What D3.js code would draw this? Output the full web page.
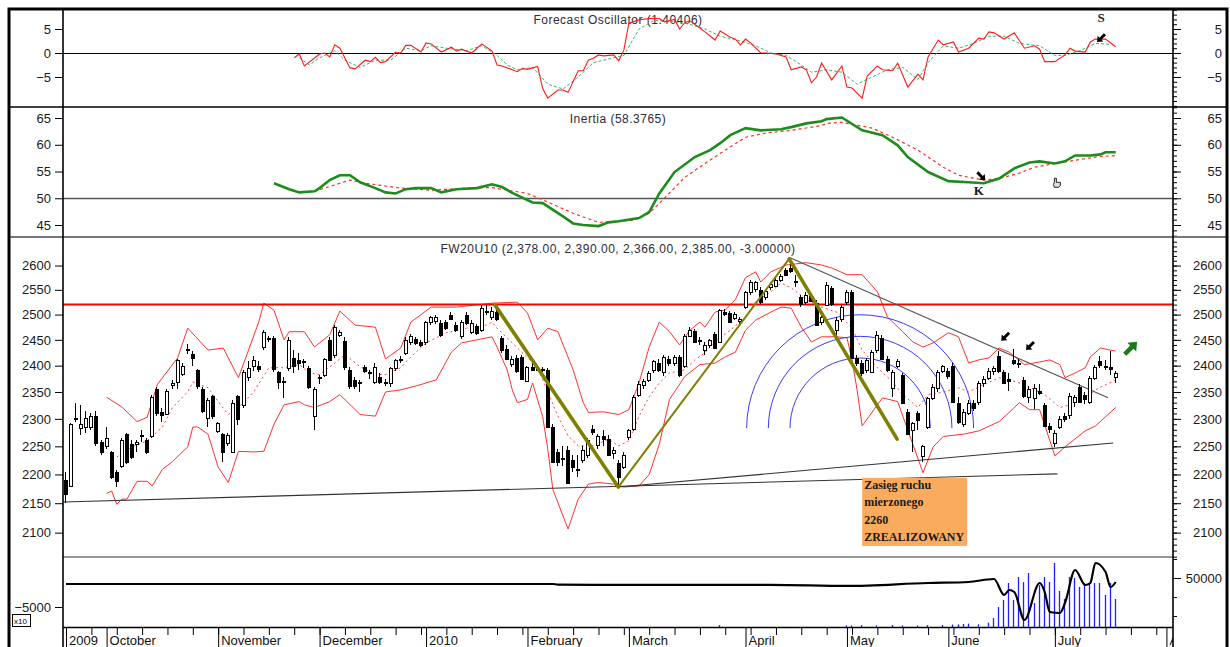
<!DOCTYPE html>
<html>
<head>
<meta charset="utf-8">
<script src="https://cdnjs.cloudflare.com/ajax/libs/d3/7.8.5/d3.min.js"></script>
<style>
  body { margin: 0; background: #fff; }
  svg { display: block; }
  .tick text { font-family: Arial, "Liberation Sans", sans-serif; font-size: 13px; fill: #1a1a1a; }
  .tick line { stroke: #000; }
  .domain { display: none; }
  .title { font-family: Arial, "Liberation Sans", sans-serif; font-size: 12px; fill: #2b2b38; letter-spacing: 0.5px; }
  .note { font-family: "Times New Roman", "Liberation Serif", serif; font-weight: bold; font-size: 12px; fill: #1a1a1a; }
</style>
</head>
<body>
<svg id="chart" width="1230" height="647"></svg>
<script>

// daily candles, FW20U10, index 0 = 21 Sep 2009 ... 207 = 16 Jul 2010  [open, high, low, close]
var ohlc = [
  [2190,2205,2150,2165],[2180,2292,2178,2290],[2300,2330,2295,2302],[2283,2325,2270,2290],[2285,2315,2275,2302],
  [2285,2310,2280,2305],[2305,2315,2250,2255],[2258,2262,2235,2240],[2250,2285,2245,2265],[2240,2242,2192,2195],
  [2205,2208,2178,2190],[2215,2265,2212,2262],[2272,2275,2218,2222],[2255,2262,2228,2232],[2255,2262,2240,2258],
  [2268,2280,2258,2270],[2262,2265,2236,2240],[2268,2345,2265,2340],[2355,2360,2305,2310],[2312,2320,2295,2307],
  [2310,2355,2308,2352],[2363,2372,2355,2366],[2368,2412,2355,2410],[2385,2405,2380,2400],[2430,2442,2422,2432],
  [2422,2428,2400,2414],[2392,2394,2355,2362],[2356,2360,2310,2315],[2302,2338,2285,2335],[2342,2345,2300,2305],
  [2278,2295,2275,2292],[2272,2275,2222,2240],[2255,2275,2250,2270],[2240,2335,2238,2330],[2342,2345,2288,2300],
  [2325,2392,2320,2388],[2378,2408,2370,2395],[2398,2418,2390,2410],[2400,2408,2388,2395],[2435,2470,2430,2465],
  [2453,2458,2445,2452],[2453,2458,2388,2392],[2387,2390,2355,2368],[2370,2378,2338,2370],[2395,2455,2390,2450],
  [2415,2430,2385,2400],[2410,2425,2392,2405],[2408,2412,2395,2408],[2395,2400,2355,2358],[2305,2360,2280,2355],
  [2376,2382,2365,2378],[2382,2415,2378,2412],[2450,2455,2410,2412],[2420,2480,2415,2475],[2460,2470,2455,2465],
  [2447,2455,2392,2396],[2392,2398,2355,2362],[2372,2378,2355,2360],[2366,2372,2350,2368],[2398,2402,2385,2390],
  [2388,2392,2375,2388],[2370,2405,2365,2398],[2378,2385,2365,2368],[2368,2375,2362,2366],[2367,2398,2360,2395],
  [2395,2412,2390,2410],[2412,2418,2405,2410],[2425,2455,2420,2450],[2447,2462,2440,2458],[2452,2456,2440,2445],
  [2445,2450,2436,2440],[2445,2488,2440,2485],[2485,2498,2480,2495],[2488,2500,2482,2496],[2484,2490,2455,2460],
  [2485,2490,2470,2473],[2500,2505,2490,2493],[2480,2485,2465,2470],[2457,2490,2452,2485],[2500,2505,2480,2484],
  [2466,2490,2462,2484],[2477,2482,2460,2463],[2470,2520,2465,2513],[2505,2520,2500,2507],[2495,2515,2490,2508],
  [2505,2510,2488,2492],[2453,2458,2425,2430],[2433,2440,2410,2413],[2403,2418,2398,2413],[2415,2420,2385,2390],
  [2417,2420,2372,2375],[2372,2400,2368,2398],[2398,2405,2390,2392],[2396,2402,2390,2392],[2394,2398,2388,2392],
  [2392,2395,2286,2286],[2285,2290,2222,2222],[2240,2245,2215,2222],[2230,2250,2215,2230],[2244,2250,2185,2185],
  [2225,2235,2205,2212],[2210,2235,2195,2210],[2226,2250,2220,2244],[2235,2265,2230,2262],[2282,2288,2270,2276],
  [2252,2272,2245,2268],[2268,2280,2250,2262],[2263,2270,2232,2235],[2238,2248,2228,2244],[2220,2225,2180,2195],
  [2213,2240,2210,2235],[2268,2282,2262,2280],[2280,2345,2278,2340],[2345,2370,2340,2365],[2362,2375,2355,2370],
  [2372,2390,2368,2385],[2390,2410,2385,2408],[2405,2412,2388,2392],[2388,2420,2380,2417],[2412,2418,2400,2405],
  [2405,2420,2400,2417],[2417,2420,2378,2382],[2400,2462,2395,2458],[2458,2475,2455,2470],[2468,2472,2445,2447],
  [2450,2455,2440,2450],[2430,2445,2420,2440],[2440,2452,2435,2450],[2462,2465,2432,2435],[2447,2512,2445,2510],
  [2505,2512,2498,2500],[2503,2508,2484,2485],[2495,2505,2490,2502],[2488,2495,2482,2492],[2515,2548,2512,2545],
  [2545,2570,2540,2566],[2550,2568,2545,2565],[2550,2555,2522,2525],[2535,2552,2530,2548],[2555,2565,2550,2562],
  [2558,2575,2555,2570],[2570,2582,2565,2578],[2590,2595,2578,2580],[2595,2605,2585,2588],[2568,2580,2555,2566],
  [2535,2540,2515,2520],[2525,2545,2520,2540],[2540,2545,2525,2528],[2524,2530,2478,2480],[2485,2500,2480,2495],
  [2520,2565,2518,2560],[2553,2558,2518,2520],[2470,2495,2460,2490],[2490,2520,2485,2515],[2525,2550,2520,2545],
  [2545,2550,2412,2415],[2415,2420,2400,2406],[2406,2410,2380,2387],[2390,2415,2385,2410],[2388,2430,2385,2427],
  [2430,2468,2425,2460],[2453,2460,2410,2412],[2412,2418,2388,2390],[2358,2392,2340,2388],[2398,2412,2395,2408],
  [2382,2385,2328,2330],[2313,2318,2270,2272],[2280,2295,2240,2292],[2310,2315,2280,2297],[2232,2252,2222,2250],
  [2285,2340,2282,2338],[2340,2365,2335,2360],[2358,2392,2350,2388],[2390,2402,2385,2400],[2390,2395,2375,2380],
  [2400,2405,2330,2332],[2330,2340,2290,2295],[2290,2318,2285,2313],[2312,2335,2308,2330],[2330,2335,2315,2320],
  [2332,2370,2325,2367],[2367,2380,2360,2375],[2377,2395,2372,2390],[2390,2400,2382,2395],[2418,2428,2385,2390],
  [2388,2392,2365,2368],[2375,2385,2352,2372],[2410,2432,2402,2405],[2405,2412,2395,2403],[2372,2378,2338,2342],
  [2340,2362,2330,2355],[2340,2365,2318,2358],[2352,2365,2345,2348],[2325,2330,2285,2287],[2287,2292,2275,2282],
  [2255,2280,2248,2274],[2285,2305,2282,2300],[2305,2310,2295,2300],[2307,2348,2300,2343],[2330,2345,2322,2340],
  [2360,2365,2330,2332],[2345,2350,2328,2338],[2332,2380,2328,2377],[2377,2402,2372,2398],[2408,2418,2395,2400],
  [2400,2410,2392,2400],[2398,2428,2382,2395],[2378,2390,2366,2385]
];

// bollinger bands  [day index, price]
var bbUpper = [[8,2340],[11,2322],[14,2295],[16,2303],[18,2364],[22,2415],[24,2473],[28,2430],[31,2434],[34,2377],
  [38,2485],[39,2523],[41,2509],[43,2450],[44,2466],[47,2466],[49,2436],[52,2460],[54,2507],[57,2479],[61,2475],
  [63,2413],[66,2434],[68,2485],[72,2515],[77,2515],[84,2523],[89,2525],[91,2503],[93,2450],[95,2473],[97,2466],
  [100,2392],[102,2330],[103,2312],[106,2313],[109,2308],[111,2317],[113,2367],[115,2436],[117,2485],[119,2466],
  [121,2440],[123,2469],[125,2485],[126,2475],[128,2505],[130,2509],[132,2530],[134,2575],[136,2587],[137,2566],
  [139,2587],[142,2601],[146,2606],[149,2601],[151,2595],[154,2581],[157,2581],[160,2546],[162,2495],[165,2466],
  [167,2446],[169,2436],[171,2444],[174,2464],[176,2456],[178,2405],[180,2411],[182,2415],[184,2434],[186,2426],
  [189,2402],[192,2407],[194,2411],[196,2402],[197,2377],[199,2386],[201,2396],[202,2417],[204,2434],[207,2428]];
var bbLower = [[8,2167],[9,2171],[10,2148],[11,2157],[12,2157],[14,2188],[16,2188],[17,2180],[19,2209],[21,2223],
  [24,2249],[25,2285],[26,2285],[28,2272],[30,2213],[32,2186],[34,2241],[37,2240],[39,2241],[41,2290],[43,2326],
  [46,2332],[47,2326],[49,2321],[52,2332],[54,2345],[58,2308],[61,2305],[63,2350],[66,2354],[70,2364],[73,2373],
  [76,2426],[78,2444],[81,2450],[84,2456],[85,2436],[87,2392],[88,2354],[89,2330],[91,2336],[92,2367],[94,2304],
  [95,2245],[96,2174],[99,2106],[101,2157],[103,2183],[105,2186],[108,2183],[110,2178],[113,2180],[115,2200],
  [117,2254],[119,2336],[122,2379],[125,2402],[128,2405],[130,2417],[132,2426],[134,2469],[136,2489],[139,2505],
  [141,2515],[143,2513],[145,2475],[147,2446],[149,2456],[152,2456],[154,2454],[155,2411],[156,2354],[157,2287],
  [161,2339],[164,2332],[169,2203],[171,2249],[173,2268],[177,2272],[180,2278],[184,2295],[186,2312],[188,2330],
  [190,2317],[192,2317],[195,2233],[197,2249],[201,2278],[203,2287],[207,2321]];
var bbMiddle = [[10,2231],[13,2249],[16,2260],[19,2285],[21,2321],[24,2350],[25,2369],[28,2358],[30,2332],[32,2308],
  [34,2321],[37,2350],[40,2396],[43,2396],[46,2402],[48,2386],[50,2383],[53,2405],[55,2421],[58,2398],[61,2383],
  [63,2383],[66,2396],[68,2417],[71,2444],[75,2464],[79,2473],[82,2475],[84,2485],[85,2473],[88,2444],[91,2415],
  [93,2398],[95,2350],[97,2305],[99,2269],[101,2251],[104,2251],[107,2263],[109,2251],[111,2260],[113,2305],
  [115,2341],[117,2367],[119,2386],[122,2392],[124,2411],[126,2425],[128,2446],[131,2469],[134,2495],[136,2526],
  [139,2546],[141,2564],[143,2554],[146,2530],[149,2515],[152,2505],[155,2473],[157,2430],[160,2396],[163,2369],
  [165,2345],[168,2321],[170,2345],[173,2350],[176,2358],[178,2350],[181,2364],[184,2377],[186,2373],[189,2364],
  [193,2345],[196,2321],[198,2326],[201,2339],[203,2354],[207,2373]];

// forecast oscillator and its signal
var foLine = [[45,-1.0],[46,-0.2],[47,-2.7],[50,-0.2],[51,0],[52,-0.8],[53,1.7],[54,1.0],[56,-3.1],[57,-3.3],[59,-1.5],
  [60,-1.8],[61,-0.9],[62,-2.0],[63,-1.8],[65,0.2],[66,0],[67,1.6],[68,1.6],[70,0.2],[71,2.1],[72,1.9],[74,0.2],
  [76,1.2],[77,0.4],[78,0.8],[80,0],[82,1.9],[84,0.4],[85,-2.5],[86,-2.7],[89,-3.9],[90,-3.2],[91,-3.4],[93,-2.8],
  [94,-7.4],[95,-9.4],[97,-7.7],[98,-7.7],[99,-8.2],[101,-3.7],[102,-3.7],[103,-1.5],[104,-1.1],[105,-0.4],
  [106,-0.6],[108,-0.4],[109,-1.6],[110,0.6],[111,6.2],[113,6.9],[115,7.2],[117,7.2],[118,6.5],[120,7.0],[121,5.0],
  [122,6.3],[123,6.7],[125,5.2],[126,4.4],[128,2.7],[129,4.6],[131,3.3],[132,2.9],[133,1.7],[134,2.9],[135,2.1],
  [137,0],[138,0],[140,-0.2],[142,-0.8],[143,-3.5],[145,-2.9],[146,-3.5],[147,-6.2],[148,-5.0],[149,-2.1],[151,-5.6],
  [153,-2.7],[154,-7.1],[155,-7.3],[157,-9.4],[158,-4.8],[160,-2.7],[161,-3.5],[163,-3.7],[164,-2.1],[166,-7.1],
  [168,-4.4],[169,-5.6],[170,-0.8],[172,2.7],[173,1.7],[175,2.3],[176,0.2],[178,1.0],[180,3.1],[181,2.9],[182,4.4],
  [183,4.2],[185,2.9],[187,4.2],[189,1.0],[191,1.5],[192,0.8],[193,-1.8],[195,-1.8],[197,-0.4],[198,1.0],[199,0.4],
  [201,0.2],[202,2.3],[203,2.9],[205,2.9],[207,1.3]];
var foSignal = [[46,-1],[48,-2.5],[50,-1],[53,0.5],[55,-1.5],[58,-3],[61,-1.5],[64,-1.5],[67,1],[70,0.5],[72,1.5],
  [75,1],[79,0.5],[82,1.5],[85,-0.5],[87,-2.5],[89,-3.5],[92,-3],[95,-6.5],[98,-7.5],[101,-5],[104,-2],[108,-1],
  [110,-0.5],[113,5],[116,6.8],[120,6.5],[123,6],[126,5],[129,3.5],[133,2.5],[136,1.5],[139,0],[142,-0.5],[145,-2.5],
  [147,-4],[150,-3.5],[153,-4],[156,-6.5],[159,-5],[162,-3.5],[165,-3],[168,-5.5],[170,-2],[173,1.5],[176,1],[179,2],
  [182,3.5],[185,3.5],[188,2],[192,1.5],[195,-0.5],[197,-0.5],[200,0.5],[203,2],[206,1.8]];

// inertia and its signal
var inertiaLine = [[41,52.8],[44,51.7],[46,51.1],[49,51.3],[50,51.9],[52,53.4],[54,54.3],[56,54.3],[58,53.0],[61,51.9],
  [63,51.1],[65,50.9],[67,51.7],[69,51.9],[72,51.9],[74,51.1],[77,51.7],[81,51.9],[84,52.6],[86,52.1],[88,51.0],
  [92,49.2],[94,49.1],[98,46.6],[100,45.3],[102,45.0],[105,44.8],[107,45.5],[109,45.7],[113,46.3],[115,47.4],
  [117,50.9],[120,54.9],[124,57.7],[127,59.0],[129,60.3],[131,61.8],[134,63.1],[137,62.7],[141,62.9],[143,63.3],
  [146,64.0],[149,64.4],[150,64.8],[153,65.1],[157,62.7],[161,61.8],[164,59.9],[166,57.7],[170,54.9],[174,53.2],
  [178,53.0],[181,52.8],[184,53.7],[187,55.6],[190,56.7],[192,56.9],[195,56.5],[197,56.9],[199,58.0],[202,58.0],
  [204,58.2],[205,58.6],[207,58.6]];
var inertiaSignal = [[49,51.3],[51,51.9],[56,53.4],[59,52.8],[66,51.9],[72,51.5],[79,51.9],[84,52.0],[91,50.9],
  [95,49.3],[100,47.2],[105,45.5],[112,45.9],[115,47.2],[118,50.0],[122,53.9],[126,56.5],[130,59.0],[134,61.4],
  [138,62.2],[143,62.7],[149,63.6],[150,64.0],[153,64.2],[159,63.1],[163,61.4],[168,59.0],[173,55.8],[176,54.3],
  [181,53.4],[184,53.7],[188,54.7],[191,55.8],[195,56.5],[199,57.1],[203,57.7],[207,58.0]];

// bottom panel: open interest line (left scale, x10) and volume bars (right scale)
var oiLine = [[0,-3000],[96,-3000],[97,-3050],[107,-3080],[139,-3080],[154,-3170],[170,-2913],[178,-2826],[183,-2565],
  [185,-3957],[186,-3522],[187,-3696],[189,-6130],[192,-2913],[193,-3696],[194,-5435],[196,-5522],[197,-4652],
  [199,-1783],[201,-3087],[202,-2913],[203,-1174],[205,-1957],[206,-3261],[207,-2826]];
var volumeBars = [[129,25200],[154,25000],[155,25000],[157,25200],[160,25000],[163,25300],[165,25000],[168,25000],
  [170,25200],[173,25300],[175,25500],[176,25600],[177,25800],[178,26000],[180,25600],[182,26500],
  [183,28950],[184,34740],[185,38420],[186,47370],[187,38420],[188,50530],[189,47900],[190,52630],[191,36840],
  [192,46300],[193,50530],[194,47900],[195,57900],[196,43160],[197,38950],[198,50530],[199,50000],[200,45260],
  [201,47370],[202,47370],[203,47370],[204,47370],[205,41050],[206,47370],[207,38950]];

// hand drawn analysis
var resistanceLevel = 2520;
var supportLine1 = [[-0.6,2152],[195.5,2201]];
var supportLine2 = [[108.9,2178],[206.5,2256]];
var downTrendLine = [[142.8,2616],[205.5,2339]];
var zigzag = [[84.6,2519],[108.9,2178],[142.6,2614],[163.9,2263]];
var fibAnchor = [142.6,2614], fibCenter = [156.6,2283];
var fibLevels = [0.382, 0.5, 0.618];
var downArrows = [[185.2,2456],[190.1,2438]];
var upArrow = [210,2434];
var noteAnchor = [157,2194];
var noteLines = ["Zasięg ruchu", "mierzonego", "2260", "ZREALIZOWANY"];

// axes
var monthStart = [0, 8, 30, 50, 71, 91, 111, 134, 154, 174, 195, 217];
var monthLabels = ["2009","October","November","December","2010","February","March","April","May","June","July","A"];
var titles = ["Forecast Oscillator (1.40406)", "Inertia (58.3765)",
              "FW20U10 (2,378.00, 2,390.00, 2,366.00, 2,385.00, -3.00000)"];

////// layout //////////////////////////
var left = 63, right = 1173;
var p1 = {top: 9, bottom: 107},
    p2 = {top: 107, bottom: 237},
    p3 = {top: 237, bottom: 557},
    p4 = {top: 557, bottom: 627};

var svg = d3.select("#chart");

////// Define Scales /////////////////
var x = d3.scaleLinear().domain([-0.6, 218.3]).range([left, right]);
var y1 = d3.scaleLinear().domain([-11.25, 9.17]).range([p1.bottom, p1.top]);
var y2 = d3.scaleLinear().domain([42.76, 67.06]).range([p2.bottom, p2.top]);
var y3 = d3.scaleLog().domain([2059.5, 2660]).range([p3.bottom, p3.top]);
var y4L = d3.scaleLinear().domain([-6739, -652]).range([p4.bottom, p4.top]);
var y4R = d3.scaleLinear().domain([24210, 61053]).range([p4.bottom, p4.top]);

function px(i) { return Math.round(x(i)); }

// panel titles
var midX = (left + right) / 2;
[[titles[0], 24], [titles[1], 123], [titles[2], 253]].forEach(function(t) {
  svg.append("text").attr("class", "title")
     .attr("x", midX).attr("y", t[1])
     .attr("text-anchor", "middle")
     .text(t[0]);
});

// reference lines
svg.append("line").attr("x1", left).attr("x2", right)
   .attr("y1", Math.round(y1(0)) + 0.5).attr("y2", Math.round(y1(0)) + 0.5)
   .attr("stroke", "#000").attr("stroke-width", 1);
svg.append("line").attr("x1", left).attr("x2", right)
   .attr("y1", Math.round(y2(50)) + 0.5).attr("y2", Math.round(y2(50)) + 0.5)
   .attr("stroke", "#555").attr("stroke-width", 1.3);

var line = function(ys) {
  return d3.line().x(function(d) { return x(d[0]); }).y(function(d) { return ys(d[1]); });
};

// forecast oscillator
svg.append("path").datum(foSignal)
   .attr("d", line(y1)).attr("fill", "none")
   .attr("stroke", "#3cb371").attr("stroke-width", 1).attr("stroke-dasharray", "3,2");
svg.append("path").datum(foLine)
   .attr("d", line(y1)).attr("fill", "none")
   .attr("stroke", "#ff1a1a").attr("stroke-width", 1.1);

// inertia
svg.append("path").datum(inertiaSignal)
   .attr("d", line(y2)).attr("fill", "none")
   .attr("stroke", "#ff2a2a").attr("stroke-width", 1.2).attr("stroke-dasharray", "3,3");
svg.append("path").datum(inertiaLine)
   .attr("d", line(y2)).attr("fill", "none")
   .attr("stroke", "#1c8c1c").attr("stroke-width", 2.6);

////// main price panel //////////////
var main = svg.append("g").attr("id", "main");

// bollinger bands
main.append("path").datum(bbUpper).attr("d", line(y3)).attr("fill", "none")
    .attr("stroke", "#ff3030").attr("stroke-width", 1);
main.append("path").datum(bbLower).attr("d", line(y3)).attr("fill", "none")
    .attr("stroke", "#ff3030").attr("stroke-width", 1);
main.append("path").datum(bbMiddle).attr("d", line(y3)).attr("fill", "none")
    .attr("stroke", "#ff4040").attr("stroke-width", 1).attr("stroke-dasharray", "2,3");

// resistance
main.append("line").attr("x1", left).attr("x2", right)
    .attr("y1", y3(resistanceLevel)).attr("y2", y3(resistanceLevel))
    .attr("stroke", "#ff0000").attr("stroke-width", 2);

// fibonacci arcs
var cx = x(fibCenter[0]), cy = y3(fibCenter[1]);
var base = Math.hypot(x(fibAnchor[0]) - cx, y3(fibAnchor[1]) - cy);
main.selectAll(".fib").data(fibLevels).enter().append("path")
    .attr("class", "fib")
    .attr("d", function(f) {
      var r = base * f;
      return "M" + (cx - r) + "," + cy + " A" + r + "," + r + " 0 0 1 " + (cx + r) + "," + cy;
    })
    .attr("fill", "none").attr("stroke", "#3a3aff").attr("stroke-width", 1);

// trend lines
[supportLine1, supportLine2].forEach(function(l) {
  main.append("path").datum(l).attr("d", line(y3)).attr("fill", "none")
      .attr("stroke", "#333").attr("stroke-width", 1.1);
});
main.append("path").datum(downTrendLine).attr("d", line(y3)).attr("fill", "none")
    .attr("stroke", "#555").attr("stroke-width", 1.1);

// candles
var candles = main.append("g").attr("id", "candles").attr("shape-rendering", "crispEdges");
candles.selectAll(".wick").data(ohlc).enter().append("line")
    .attr("class", "wick")
    .attr("x1", function(d, i) { return px(i) - 0.5; })
    .attr("x2", function(d, i) { return px(i) - 0.5; })
    .attr("y1", function(d) { return y3(d[1]); })
    .attr("y2", function(d) { return y3(d[2]); })
    .attr("stroke", "#000").attr("stroke-width", 1);
candles.selectAll(".body").data(ohlc).enter().append("rect")
    .attr("class", "body")
    .attr("x", function(d, i) { return px(i) - 1.5; })
    .attr("width", 3)
    .attr("y", function(d) { return Math.round(y3(Math.max(d[0], d[3]))) + 0.5; })
    .attr("height", function(d) {
      return Math.max(1, Math.round(y3(Math.min(d[0], d[3])) - y3(Math.max(d[0], d[3]))));
    })
    .attr("fill", function(d) { return d[3] < d[0] ? "#000" : "#fff"; })
    .attr("stroke", "#000").attr("stroke-width", 1);

// olive zig-zag (down legs thick)
for (var k = 0; k < zigzag.length - 1; k++) {
  main.append("line")
      .attr("x1", x(zigzag[k][0])).attr("y1", y3(zigzag[k][1]))
      .attr("x2", x(zigzag[k + 1][0])).attr("y2", y3(zigzag[k + 1][1]))
      .attr("stroke", "#7f7f00")
      .attr("stroke-width", zigzag[k + 1][1] < zigzag[k][1] ? 3.6 : 2)
      .attr("stroke-linecap", "round");
}

// block arrows
function blockArrow(g, ax, ay, angle, scale, color) {
  g.append("path")
   .attr("d", "M-7,-1.8 L1,-1.8 L1,-5 L7,0 L1,5 L1,1.8 L-7,1.8 Z")
   .attr("transform", "translate(" + ax + "," + ay + ") rotate(" + angle + ") scale(" + scale + ")")
   .attr("fill", color);
}
downArrows.forEach(function(a) { blockArrow(main, x(a[0]), y3(a[1]), 135, 0.8, "#000"); });
blockArrow(main, x(upArrow[0]), y3(upArrow[1]), -45, 1.25, "#1a7a1a");

// note box
var nx = x(noteAnchor[0]), ny = y3(noteAnchor[1]);
main.append("rect").attr("x", nx).attr("y", ny).attr("width", 105).attr("height", 68)
    .attr("fill", "#fbab5e");
main.selectAll(".note").data(noteLines).enter().append("text")
    .attr("class", "note")
    .attr("x", nx + 2)
    .attr("y", function(d, i) { return ny + 11 + i * 17.5; })
    .text(function(d) { return d; });

// S and K marks on the indicators
svg.append("text").attr("class", "note").attr("x", x(204.1)).attr("y", y1(6.5))
   .attr("text-anchor", "middle").style("font-size", "13px").text("S");
blockArrow(svg, x(204.1), y1(3.1), 135, 0.8, "#000");
svg.append("text").attr("class", "note").attr("x", x(180)).attr("y", y2(50.6))
   .attr("text-anchor", "middle").style("font-size", "13px").text("K");
blockArrow(svg, x(180.5), y2(54.1), 45, 0.8, "#000");
// small hand cursor
var hand = svg.append("g").attr("transform", "translate(" + x(195.5) + "," + y2(52.8) + ")");
hand.append("path").attr("d", "M-3,-5 L-1,-5 L-1,-1 L3,-1 Q4,3 1,4 L-3,4 Q-5,1 -3,-1 Z")
    .attr("fill", "#ddd").attr("stroke", "#222").attr("stroke-width", 1);

////// bottom panel //////////////////
svg.append("g").selectAll("line").data(volumeBars).enter().append("line")
   .attr("x1", function(d) { return px(d[0]) - 0.5; })
   .attr("x2", function(d) { return px(d[0]) - 0.5; })
   .attr("y1", p4.bottom)
   .attr("y2", function(d) { return y4R(d[1]); })
   .attr("stroke", "#1f1fff").attr("stroke-width", 1.3);
svg.append("path").datum(oiLine)
   .attr("d", d3.line().curve(d3.curveMonotoneX)
            .x(function(d) { return x(d[0]); }).y(function(d) { return y4L(d[1]); }))
   .attr("fill", "none").attr("stroke", "#000").attr("stroke-width", 2.2);

////// axes //////////////////////////
function twinAxis(scale, minor, major, fmt) {
  var gl = svg.append("g").attr("transform", "translate(" + left + ",0)");
  gl.call(d3.axisLeft(scale).tickValues(minor).tickSize(4).tickFormat(""));
  gl.call(d3.axisLeft(scale).tickValues(major).tickSize(8).tickPadding(4).tickFormat(fmt));
  var gr = svg.append("g").attr("transform", "translate(" + right + ",0)");
  gr.call(d3.axisRight(scale).tickValues(minor).tickSize(4).tickFormat(""));
  var gm = gr.append("g").call(d3.axisRight(scale).tickValues(major).tickSize(8).tickFormat(fmt));
  gm.selectAll("text").attr("text-anchor", "end").attr("x", 49);
}
var plain = d3.format("d");
twinAxis(y1, d3.range(-11, 10, 1), [-5, 0, 5], plain);
twinAxis(y2, d3.range(43, 68, 1), [45, 50, 55, 60, 65], plain);
twinAxis(y3, d3.range(2060, 2661, 10), d3.range(2100, 2601, 50), plain);

// bottom panel: separate left and right scales
var bl = svg.append("g").attr("transform", "translate(" + left + ",0)");
bl.call(d3.axisLeft(y4L).tickValues([-6000, -4000, -3000, -2000, -1000]).tickSize(4).tickFormat(""));
bl.call(d3.axisLeft(y4L).tickValues([-5000]).tickSize(8).tickPadding(4).tickFormat(plain));
var br = svg.append("g").attr("transform", "translate(" + right + ",0)");
br.call(d3.axisRight(y4R).tickValues([30000, 40000, 60000]).tickSize(4).tickFormat(""));
br.append("g").call(d3.axisRight(y4R).tickValues([50000]).tickSize(8).tickFormat(plain))
  .selectAll("text").attr("text-anchor", "end").attr("x", 49);
svg.append("rect").attr("x", 12.5).attr("y", 614.5).attr("width", 18).attr("height", 12)
   .attr("fill", "#fff").attr("stroke", "#000");
svg.append("text").attr("x", 14).attr("y", 624)
   .style("font-family", "Arial, sans-serif").style("font-size", "8px").text("x10");

// time axis
var xa = svg.append("g").attr("transform", "translate(0," + p4.bottom + ")");
xa.call(d3.axisBottom(x).tickValues(d3.range(5, 216, 5)).tickSize(8).tickFormat(""));
xa.append("g").call(d3.axisBottom(x).tickValues(monthStart).tickSize(22).tickFormat(""));
svg.append("clipPath").attr("id", "xclip").append("rect")
   .attr("x", left).attr("y", p4.bottom).attr("width", right - left).attr("height", 30);
svg.append("g").attr("clip-path", "url(#xclip)")
   .selectAll("text").data(monthStart).enter().append("text")
   .attr("x", function(d) { return x(d) + 3; })
   .attr("y", 645)
   .style("font-family", "Arial, 'Liberation Sans', sans-serif").style("font-size", "13px")
   .attr("fill", "#111")
   .text(function(d, i) { return monthLabels[i]; });

////// frame and separators /////////
svg.append("line").attr("x1", 9).attr("x2", 1227).attr("y1", p1.bottom).attr("y2", p1.bottom)
   .attr("stroke", "#000").attr("stroke-width", 1.6);
svg.append("line").attr("x1", 9).attr("x2", 1227).attr("y1", p2.bottom).attr("y2", p2.bottom)
   .attr("stroke", "#777").attr("stroke-width", 2);
svg.append("line").attr("x1", left).attr("x2", right).attr("y1", p3.bottom).attr("y2", p3.bottom)
   .attr("stroke", "#777").attr("stroke-width", 1.5);
svg.append("line").attr("x1", left).attr("x2", right).attr("y1", p4.bottom + 0.5).attr("y2", p4.bottom + 0.5)
   .attr("stroke", "#000").attr("stroke-width", 1.3);
[left, right].forEach(function(v) {
  svg.append("line").attr("x1", v).attr("x2", v).attr("y1", p1.top).attr("y2", 647)
     .attr("stroke", "#000").attr("stroke-width", 1.6);
});
svg.append("path").attr("d", "M9,647 L9,9 L1227,9 L1227,647")
   .attr("fill", "none").attr("stroke", "#000").attr("stroke-width", 3);

</script>
</body>
</html>
